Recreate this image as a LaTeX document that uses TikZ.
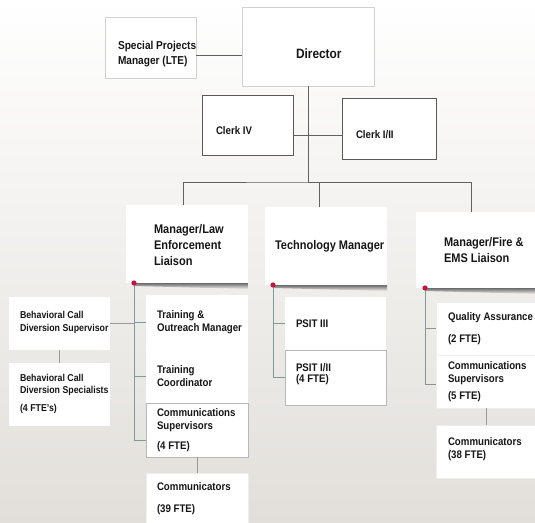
\documentclass[tikz,border=0pt]{standalone}
\usepackage{fontspec}
\setmainfont{Liberation Sans}[FakeStretch=0.88]
\usepackage{tikz}
\usetikzlibrary{positioning}

\definecolor{pagetop}{HTML}{FFFFFF}
\definecolor{pagemid}{HTML}{F1F0EE}
\definecolor{pagebot}{HTML}{E2DFDA}
\definecolor{pinred}{HTML}{C8143C}
\definecolor{stemgray}{HTML}{7E9A9A}
\definecolor{ink}{HTML}{161616}

\tikzset{
  box/.style={fill=white, inner sep=0pt, outer sep=0pt, anchor=north west},
  edgebox/.style={box, draw=black!18, line width=0.8pt},
  clerkbox/.style={box, draw=black!65, line width=0.9pt},
  rimbox/.style={box, draw=black!28, line width=0.8pt},
  faintbox/.style={box, draw=black!7, line width=0.6pt},
  txt/.style={inner sep=0pt, outer sep=0pt, align=left, text=ink, font=\bfseries\fontsize{11}{13}\selectfont},
  smalltxt/.style={txt, font=\bfseries\fontsize{10}{12.5}\selectfont},
  midtxt/.style={txt, font=\bfseries\fontsize{11.5}{15}\selectfont},
  headtxt/.style={txt, font=\bfseries\fontsize{12.5}{16}\selectfont},
  toptxt/.style={txt, font=\bfseries\fontsize{13.5}{16}\selectfont},
  conn/.style={draw=black!62, line width=0.8pt},
  stemline/.style={draw=stemgray, line width=0.8pt},
  boxlink/.style={draw=black!40, line width=0.6pt}
}

\begin{document}
\begin{tikzpicture}[x=1pt,y=-1pt]
\useasboundingbox (0,0) rectangle (535,522);
\shade [top color=pagetop, middle color=pagemid, bottom color=pagebot] (0,0) rectangle (535,522);

% director and office
\node [edgebox, minimum width=91pt, minimum height=61pt] (sp) at (105,17) {};
\node [edgebox, minimum width=132pt, minimum height=79pt] (dir) at (242,7) {};
\node [clerkbox, minimum width=91pt, minimum height=60pt] (clk4) at (202,95) {};
\node [clerkbox, minimum width=94pt, minimum height=61pt] (clk12) at (342,98) {};

% managers
\node [box, minimum width=122pt, minimum height=78pt] (law) at (126,205) {};
\node [box, minimum width=122pt, minimum height=78pt] (tech) at (265,207) {};
\node [box, minimum width=121pt, minimum height=76pt] (fire) at (416,212) {};

% law enforcement side
\node [box, minimum width=101pt, minimum height=53pt] (bhs) at (9,297) {};
\node [box, minimum width=101pt, minimum height=63pt] (bhsp) at (9,363) {};
\node [box, minimum width=102pt, minimum height=55pt] (tom) at (146,295) {};
\node [box, minimum width=102pt, minimum height=53pt] (tc) at (146,350) {};
\node [rimbox, minimum width=102pt, minimum height=54pt] (cs4) at (146,403) {};
\node [faintbox, minimum width=102pt, minimum height=52pt] (com39) at (146,473) {};

% technology side
\node [box, minimum width=101pt, minimum height=53pt] (p3) at (285,297) {};
\node [rimbox, minimum width=101pt, minimum height=55pt] (p12) at (285,350) {};

% fire / ems side
\node [faintbox, minimum width=101pt, minimum height=53pt] (qa) at (436,302) {};
\node [faintbox, minimum width=101pt, minimum height=53pt] (cs5) at (436,355) {};
\node [faintbox, minimum width=99pt, minimum height=53pt] (com38) at (436,425) {};

% connectors
\coordinate (bus) at ([yshift=-96pt]dir.south);
\draw [conn] ([yshift=-7.5pt]sp.east) -- ([yshift=-7.5pt]sp.east -| dir.west);
\draw [conn] (dir.south) -- (bus);
\draw [conn] ([yshift=-10pt]clk4.east) -- ([yshift=-10pt]clk4.east -| clk12.west);
\draw [conn] ([xshift=-4pt]law.north) |- (bus) -| ([xshift=-7pt]tech.north);
\draw [conn] (bus) -| ([xshift=-5.5pt]fire.north);

\coordinate (law-pin) at ([xshift=8pt]law.south west);
\coordinate (tech-pin) at ([xshift=8pt]tech.south west);
\coordinate (fire-pin) at ([xshift=9pt]fire.south west);

\draw [stemline] (law-pin) |- ([yshift=-10pt]cs4.west);
\draw [stemline] (tom.west -| law-pin) -- (tom.west);
\draw [stemline] (tc.west -| law-pin) -- (tc.west);
\draw [boxlink] (bhs.east) -- (bhs.east -| law-pin);
\draw [boxlink] (bhs.south) -- (bhsp.north);
\draw [boxlink] (cs4.south) -- (com39.north);

\draw [stemline] (tech-pin) |- (p12.west);
\draw [stemline] (p3.west -| tech-pin) -- (p3.west);

\draw [stemline] (fire-pin) |- ([yshift=-2.5pt]cs5.west);
\draw [stemline] (qa.west -| fire-pin) -- (qa.west);
\draw [boxlink] (cs5.south) -- (cs5.south |- com38.north);

% lifted edge under the managers
\foreach \m in {law,tech,fire} {
  \shade [top color=black!58, bottom color=pagemid] (\m-pin) -- (\m.south east) -- ([yshift=-6pt]\m.south east) -- ([yshift=-3pt]\m-pin) -- cycle;
  \fill [pinred] (\m-pin) circle (2.6pt);
}

% labels
\node [midtxt, right=13pt of sp.west, yshift=-7pt] (spT) {Special Projects\\Manager (LTE)};
\node [toptxt, right=54pt of dir.west, yshift=-7.5pt] (dirT) {Director};
\node [txt, right=14pt of clk4.west, yshift=-6pt] (clk4T) {Clerk IV};
\node [txt, right=14pt of clk12.west, yshift=-6.5pt] (clk12T) {Clerk I/II};

\node [headtxt, right=28pt of law.west, yshift=-1pt] (lawT) {Manager/Law\\Enforcement\\Liaison};
\node [headtxt, right=10pt of tech.west] (techT) {Technology Manager};
\node [headtxt, right=28pt of fire.west] (fireT) {Manager/Fire \&\\EMS Liaison};

\node [smalltxt, right=11pt of bhs.west, yshift=1pt] (bhsT) {Behavioral Call\\Diversion Supervisor};
\node [smalltxt, right=11pt of bhsp.west, yshift=1pt] (bhspT) {Behavioral Call\\Diversion Specialists\\[5pt](4 FTE's)};
\node [txt, right=11pt of tom.west] (tomT) {Training \&\\Outreach Manager};
\node [txt, right=11pt of tc.west] (tcT) {Training\\Coordinator};
\node [txt, right=11pt of cs4.west] (cs4T) {Communications\\Supervisors\\[7pt](4 FTE)};
\node [txt, right=11pt of com39.west] (com39T) {Communicators\\[9pt](39 FTE)};

\node [txt, right=11pt of p3.west] (p3T) {PSIT III};
\node [txt, right=11pt of p12.west, yshift=3pt] (p12T) {PSIT I/II\\[-2pt](4 FTE)};

\node [txt, right=12pt of qa.west] (qaT) {Quality Assurance\\[9pt](2 FTE)};
\node [txt, right=12pt of cs5.west] (cs5T) {Communications\\Supervisors\\[4pt](5 FTE)};
\node [txt, right=12pt of com38.west, yshift=2pt] (com38T) {Communicators\\(38 FTE)};

\end{tikzpicture}
\end{document}
